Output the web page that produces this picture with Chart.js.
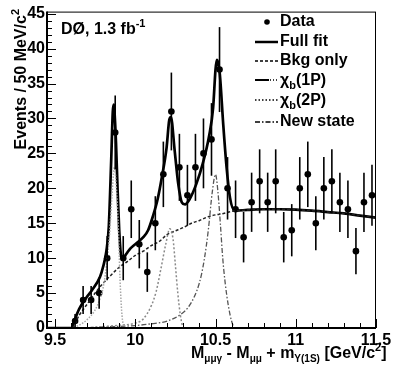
<!DOCTYPE html>
<html><head><meta charset="utf-8">
<script src="https://cdn.jsdelivr.net/npm/chart.js@4.4.1/dist/chart.umd.min.js"></script>
<style>html,body{margin:0;padding:0;background:#fff}</style>
</head><body>
<canvas id="c" width="398" height="373"></canvas>
<script>
// ---- data ----
const binCenters = [9.625,9.675,9.725,9.775,9.825,9.875,9.925,9.975,10.025,10.075,10.125,10.175,10.225,10.275,10.325,10.375,10.425,10.475,10.525,10.575,10.625,10.675,10.725,10.775,10.825,10.875,10.925,10.975,11.025,11.075,11.125,11.175,11.225,11.275,11.325,11.375,11.425,11.475];
const counts = [1,4,4,5,10,28,10,17,12,8,15,22,31,23,19,23,25,27,37,20,17,13,18,21,18,21,13,14,20,22,15,20,21,18,17,11,18,19];
const countErr = [1.0,2.0,2.0,2.24,3.16,5.29,3.16,4.12,3.46,2.83,3.87,4.69,5.57,4.80,4.36,4.80,5.0,5.20,6.08,4.47,4.12,3.61,4.24,4.58,4.24,4.58,3.61,3.74,4.47,4.69,3.87,4.47,4.58,4.24,4.12,3.32,4.24,4.36];

const fitX = [9.45,9.604,9.615,9.65,9.70,9.73,9.78,9.80,9.82,9.835,9.85,9.86,9.866,9.873,9.88,9.89,9.90,9.91,9.92,9.95,9.97,10.00,10.05,10.08,10.11,10.14,10.165,10.195,10.212,10.222,10.245,10.268,10.29,10.31,10.34,10.38,10.42,10.46,10.485,10.50,10.508,10.516,10.527,10.548,10.569,10.59,10.62,10.70,10.80,10.90,11.00,11.10,11.20,11.30,11.40,11.50];
const fitY = [0,0,0.7,2.7,4.5,5.4,7.3,8.8,11.0,14.5,24,31,32,30,26.5,19.7,14,10.6,10.0,10.8,11.4,12.0,13.0,14.0,16.0,18.5,21.5,25.8,29.8,30.2,25.5,20.6,18.0,17.7,18.5,20.6,23.5,27.5,31.5,37,38.4,38,36.3,29.2,23.0,18.7,16.8,16.9,17.0,17.0,16.95,16.8,16.6,16.4,16.1,15.8];

const bkgX = [9.45,9.605,9.65,9.70,9.75,9.80,9.85,9.90,9.95,10.00,10.05,10.10,10.15,10.20,10.25,10.30,10.35,10.40,10.45,10.50,10.55,10.60,10.70,10.80,10.90,11.00,11.10,11.20,11.30,11.40,11.50];
const bkgY = [0,0,1.8,3.4,5.0,6.4,7.6,8.7,9.5,10.4,11.0,11.8,12.4,13.4,13.9,14.4,15.0,15.4,15.9,16.2,16.4,16.7,16.9,17.0,17.0,16.95,16.8,16.6,16.4,16.1,15.8];

const chi1X = [9.45,9.60,9.65,9.70,9.75,9.78,9.80,9.82,9.84,9.855,9.87,9.885,9.895,9.905,9.915,9.925,9.94,11.5];
const chi1Y = [0,0,0.4,1.2,2.6,4.2,5.8,8.8,13.5,19,23,19,14,7,2.5,0.5,0,0];

const chi2X = [9.45,9.65,9.80,9.90,10.00,10.05,10.10,10.13,10.16,10.19,10.215,10.235,10.25,10.265,10.28,10.295,10.31,11.5];
const chi2Y = [0,0,0.2,0.4,0.7,1.3,3.2,5.2,8.5,12.0,14.2,12.8,9,5,2,0.3,0,0];

const newX = [9.45,9.60,9.80,10.00,10.10,10.20,10.28,10.34,10.40,10.43,10.455,10.48,10.50,10.515,10.53,10.545,10.56,10.58,10.60,10.62,11.5];
const newY = [0,0,0.15,0.35,0.6,1.0,1.9,3.3,6.5,9.8,14,19.5,22,19.5,15,10,6.5,3.2,1.0,0,0];

const xTicks = [9.5,10,10.5,11,11.5];
const yTicks = [0,5,10,15,20,25,30,35,40,45];

// ---- build ----
const pts = (xs, ys) => xs.map((x,i)=>({x, y: ys[i]}));
const FONT = '"Liberation Sans", Arial, sans-serif';

function richText(ctx, x, y, parts){
  let cx = x;
  for (const [t, size, dy] of parts){
    ctx.font = 'bold ' + size + 'px ' + FONT;
    ctx.fillText(t, cx, y + dy);
    cx += ctx.measureText(t).width;
  }
  return cx - x;
}
function richWidth(ctx, parts){
  let w = 0;
  for (const [t, size] of parts){ ctx.font = 'bold ' + size + 'px ' + FONT; w += ctx.measureText(t).width; }
  return w;
}

const errorBars = {
  id: 'errorBars',
  afterDatasetsDraw(chart){
    const {ctx, scales:{x, y}} = chart;
    ctx.save();
    ctx.strokeStyle = '#000'; ctx.lineWidth = 1.6;
    binCenters.forEach((bx, i)=>{
      const px = x.getPixelForValue(bx);
      const lo = Math.max(0, counts[i] - countErr[i]);
      ctx.beginPath();
      ctx.moveTo(px, y.getPixelForValue(lo));
      ctx.lineTo(px, y.getPixelForValue(counts[i] + countErr[i]));
      ctx.stroke();
    });
    ctx.restore();
  }
};

const decor = {
  id: 'decor',
  afterDraw(chart){
    const {ctx, chartArea: a, scales:{x, y}} = chart;
    ctx.save();
    ctx.strokeStyle = '#000';
    ctx.lineWidth = 1;
    ctx.strokeRect(a.left + 0.5, a.top + 0.5, a.right - a.left - 1, a.bottom - a.top - 1);
    ctx.lineWidth = 2;
    ctx.beginPath();
    ctx.moveTo(a.left, a.top); ctx.lineTo(a.left, a.bottom); ctx.lineTo(a.right, a.bottom);
    ctx.stroke();
    // x ticks (inside)
    ctx.lineWidth = 1;
    ctx.beginPath();
    for (let i = 0; i <= 20; i++){
      const v = 9.5 + i * 0.1;
      const px = Math.round(x.getPixelForValue(v)) + 0.5;
      const len = (i % 5 === 0) ? 9 : 5;
      ctx.moveTo(px, a.bottom); ctx.lineTo(px, a.bottom - len);
    }
    // y ticks
    for (let v = 0; v <= 45; v++){
      const py = Math.round(y.getPixelForValue(v)) + 0.5;
      const len = (v % 5 === 0) ? 9 : 5;
      ctx.moveTo(a.left, py); ctx.lineTo(a.left + len, py);
    }
    ctx.stroke();

    ctx.fillStyle = '#000';
    ctx.textBaseline = 'alphabetic';
    ctx.textAlign = 'left';
    // Experiment label
    richText(ctx, 61, 34, [['DØ, 1.3 fb', 16, 0], ['-1', 11, -7]]);
    // x title
    richText(ctx, 191, 358, [['M', 16, 0], ['μμγ', 10, 4], [' - M', 16, 0], ['μμ', 10, 4], [' + m', 16, 0], ['Υ(1S)', 10, 4], [' [GeV/c', 16, 0], ['2', 11, -7], [']', 16, 0]]);
    // y title
    const yParts = [['Events / 50 MeV/c', 16, 0], ['2', 11, -7]];
    const w = richWidth(ctx, yParts);
    ctx.save();
    ctx.translate(26, 9 + w);
    ctx.rotate(-Math.PI / 2);
    richText(ctx, 0, 0, yParts);
    ctx.restore();

    // legend
    const lx0 = 255, lx1 = 278, tx = 280;
    const rows = [22, 42, 61, 80, 100, 122];
    ctx.font = 'bold 16px ' + FONT;
    ctx.textBaseline = 'middle';
    // Data
    ctx.beginPath(); ctx.arc(267, rows[0], 2.8, 0, Math.PI * 2); ctx.fill();
    ctx.fillText('Data', tx, rows[0]);
    // Full fit
    ctx.lineWidth = 2.5; ctx.setLineDash([]);
    ctx.beginPath(); ctx.moveTo(lx0, rows[1]); ctx.lineTo(lx1, rows[1]); ctx.stroke();
    ctx.fillText('Full fit', tx, rows[1]);
    // Bkg only
    ctx.lineWidth = 1.5; ctx.setLineDash([3, 2]);
    ctx.beginPath(); ctx.moveTo(lx0, rows[2]); ctx.lineTo(lx1, rows[2]); ctx.stroke();
    ctx.fillText('Bkg only', tx, rows[2]);
    // chi_b(1P)
    ctx.setLineDash([]); ctx.lineWidth = 2;
    ctx.beginPath(); ctx.moveTo(lx0, rows[3]); ctx.lineTo(lx0 + 14, rows[3]); ctx.stroke();
    ctx.setLineDash([1, 2]); ctx.lineWidth = 1.5;
    ctx.beginPath(); ctx.moveTo(lx0 + 15, rows[3]); ctx.lineTo(lx1, rows[3]); ctx.stroke();
    ctx.textBaseline = 'alphabetic';
    richText(ctx, tx, rows[3] + 5, [['χ', 16, 0], ['b', 11, 4], ['(1P)', 16, 0]]);
    // chi_b(2P)
    ctx.setLineDash([1.5, 2]); ctx.lineWidth = 1.5;
    ctx.beginPath(); ctx.moveTo(lx0, rows[4]); ctx.lineTo(lx1, rows[4]); ctx.stroke();
    richText(ctx, tx, rows[4] + 5, [['χ', 16, 0], ['b', 11, 4], ['(2P)', 16, 0]]);
    // New state
    ctx.setLineDash([5, 2, 1.5, 2]); ctx.lineWidth = 1.5;
    ctx.beginPath(); ctx.moveTo(lx0, rows[5]); ctx.lineTo(lx1, rows[5]); ctx.stroke();
    ctx.setLineDash([]);
    ctx.textBaseline = 'middle';
    ctx.font = 'bold 16px ' + FONT;
    ctx.fillText('New state', tx, rows[5]);
    ctx.restore();
  }
};

const lineDs = (label, xs, ys, color, width, dash) => ({
  label, data: pts(xs, ys), showLine: true, borderColor: color, borderWidth: width,
  borderDash: dash, pointRadius: 0, cubicInterpolationMode: 'monotone', fill: false
});

new Chart(document.getElementById('c'), {
  type: 'scatter',
  data: {
    datasets: [
      lineDs('χb(1P)', chi1X, chi1Y, '#a8a8a8', 1.5, [1.5, 1.5]),
      lineDs('χb(2P)', chi2X, chi2Y, '#8a8a8a', 1.5, [2, 2]),
      lineDs('New state', newX, newY, '#555', 1.3, [5, 2, 1.5, 2]),
      lineDs('Bkg only', bkgX, bkgY, '#222', 1.5, [3, 2]),
      lineDs('Full fit', fitX, fitY, '#000', 2.7, []),
      { label: 'Data', data: pts(binCenters, counts), showLine: false,
        pointRadius: 3.3, pointBackgroundColor: '#000', pointBorderColor: '#000', pointBorderWidth: 0 }
    ]
  },
  options: {
    responsive: false, animation: false, devicePixelRatio: 1,
    layout: { padding: { top: 10, right: 22, left: 0, bottom: 0 } },
    plugins: { legend: { display: false }, tooltip: { enabled: false } },
    scales: {
      x: {
        type: 'linear', min: 9.45, max: 11.5,
        afterBuildTicks: s => { s.ticks = xTicks.map(v => ({ value: v })); },
        afterFit: s => { s.height = 45; },
        grid: { display: false, drawTicks: false },
        border: { display: false },
        ticks: { color: '#000', padding: 3, maxRotation: 0, autoSkip: false,
          font: { family: FONT, size: 16, weight: 'bold' },
          callback: v => String(v) }
      },
      y: {
        type: 'linear', min: 0, max: 45.3,
        afterBuildTicks: s => { s.ticks = yTicks.map(v => ({ value: v })); },
        afterFit: s => { s.width = 47; },
        grid: { display: false, drawTicks: false },
        border: { display: false },
        ticks: { color: '#000', padding: 2, autoSkip: false,
          font: { family: FONT, size: 16, weight: 'bold' },
          callback: v => String(v) }
      }
    }
  },
  plugins: [errorBars, decor]
});
</script>
</body></html>
